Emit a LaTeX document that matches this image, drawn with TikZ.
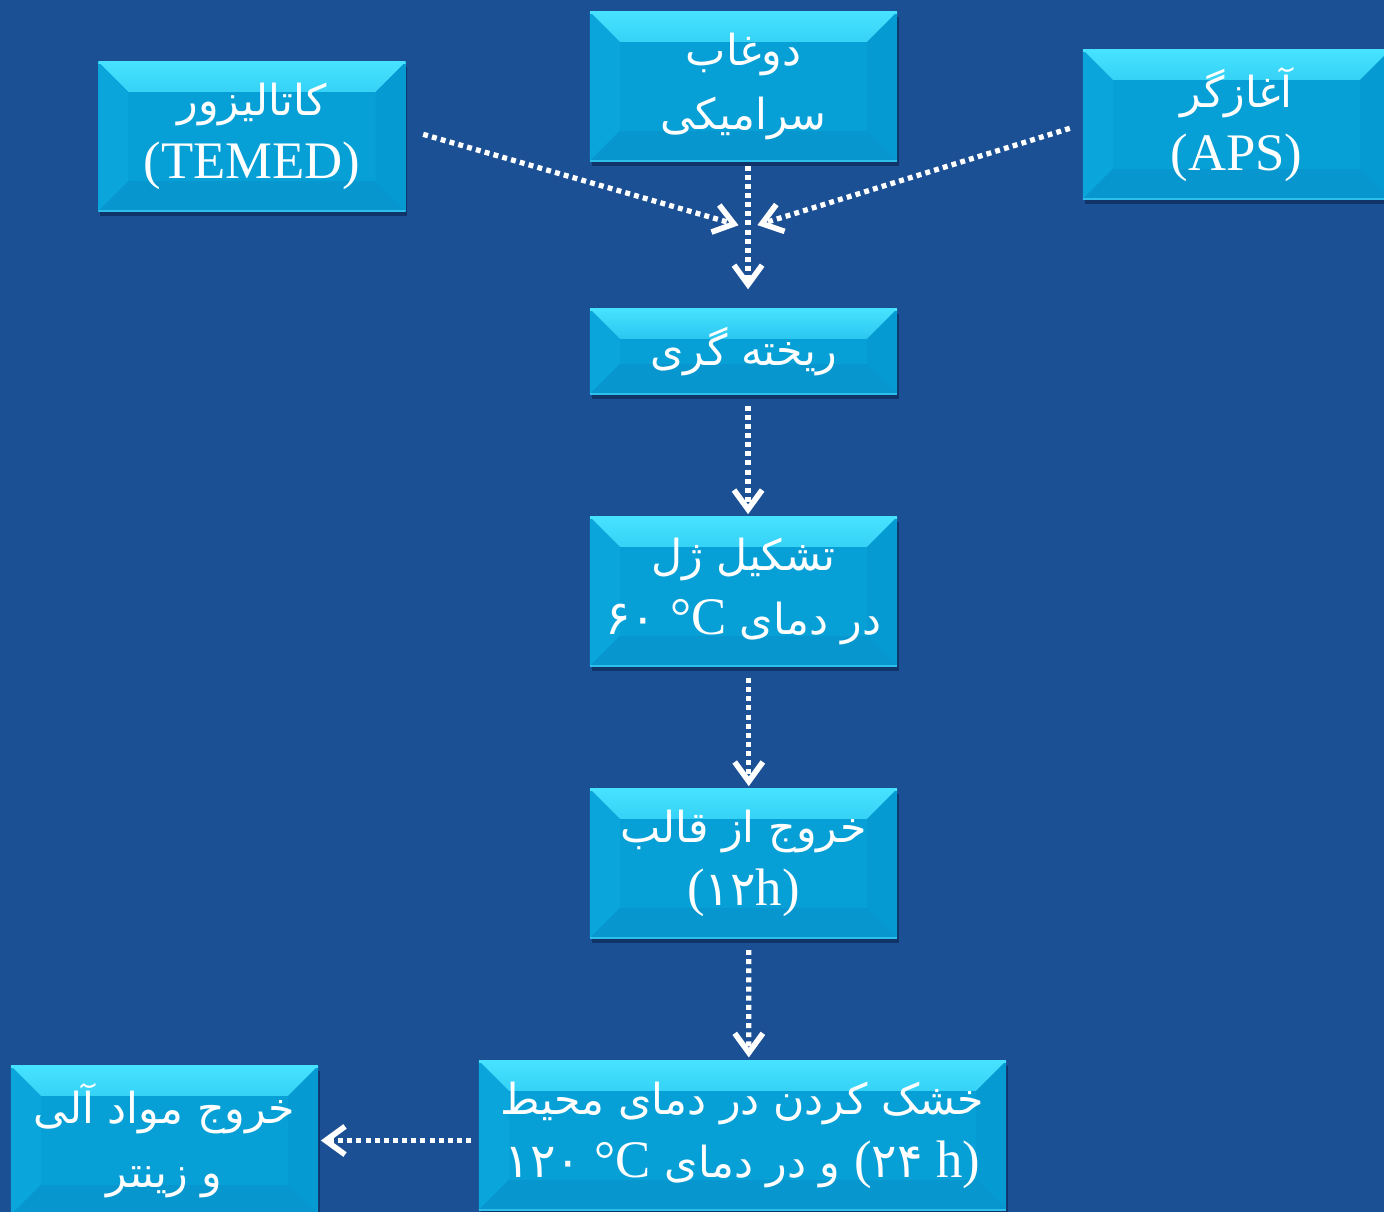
\documentclass[tikz,border=0pt]{standalone}
\usepackage{fontspec}
\setmainfont{Liberation Serif}
\newfontfamily\farsi[Script=Arabic,Scale=0.81]{DejaVu Sans}
\newfontfamily\farsinum[Script=Arabic,Scale=0.9]{DejaVu Sans}
\TeXXeTstate=1
\usetikzlibrary{arrows.meta}

\definecolor{backblue}{RGB}{28,80,149}
\definecolor{shadeblue}{RGB}{16,52,104}
\definecolor{boxcyan}{RGB}{6,160,214}
\definecolor{toplight}{RGB}{70,226,255}
\definecolor{topmid}{RGB}{14,170,224}
\definecolor{sidelight}{RGB}{10,165,219}
\definecolor{sidedark}{RGB}{5,154,209}
\definecolor{bottomdark}{RGB}{7,150,205}
\definecolor{edgelight}{RGB}{45,190,236}

\newcommand{\fa}[1]{{\farsi\beginR #1\endR}}
\newcommand{\num}[1]{{\farsinum #1}}
\newcommand{\ppbb}{path picture bounding box}

\begin{document}
\begin{tikzpicture}
    [x=0.01cm, y=-0.01cm,
    >={Straight Barb[length=5.5pt,width=8pt,line width=1.6pt]},
    stage/.style={fill=boxcyan, text=white, inner sep=0pt,
        minimum width=3.07cm, minimum height=1.49cm, align=center,
        font=\fontsize{15}{18}\selectfont,
        preaction={fill=shadeblue, transform canvas={shift={(0.5pt,-1.5pt)}}},
        path picture={
            \shade[top color=toplight, bottom color=topmid, middle color=topmid!70!toplight]
                (\ppbb.north west) -- (\ppbb.north east)
                -- ([shift={(-0.3cm,-0.3cm)}]\ppbb.north east)
                -- ([shift={(0.3cm,-0.3cm)}]\ppbb.north west) -- cycle;
            \fill[sidelight] (\ppbb.north west)
                -- ([shift={(0.3cm,-0.3cm)}]\ppbb.north west)
                -- ([shift={(0.3cm,0.3cm)}]\ppbb.south west)
                -- (\ppbb.south west) -- cycle;
            \fill[sidedark] (\ppbb.north east)
                -- ([shift={(-0.3cm,-0.3cm)}]\ppbb.north east)
                -- ([shift={(-0.3cm,0.3cm)}]\ppbb.south east)
                -- (\ppbb.south east) -- cycle;
            \fill[bottomdark] (\ppbb.south west)
                -- ([shift={(0.3cm,0.3cm)}]\ppbb.south west)
                -- ([shift={(-0.3cm,0.3cm)}]\ppbb.south east)
                -- (\ppbb.south east) -- cycle;
            \draw[toplight, line width=1.2pt]
                (\ppbb.north west) -- (\ppbb.north east);
            \draw[edgelight, line width=0.8pt]
                (\ppbb.south west) -- (\ppbb.south east);
        }},
    flow/.style={->, draw=white, line width=1.5pt,
        dash pattern=on 1.4pt off 1.2pt},
    ]
    \fill[backblue] (0,0) rectangle (1384,1212);
    \clip (0,0) rectangle (1384,1212);

    % inputs
    \node[stage] (catalyst) at (252,136.5)
        {\fa{کاتالیزور}\\(TEMED)};
    \node[stage] (slurry) at (743.5,86.5)
        {\fa{دوغاب}\\\fa{سرامیکی}};
    \node[stage] (initiator) at (1236.5,124.5)
        {\fa{آغازگر}\\(APS)};

    % process chain
    \node[stage, minimum height=0.85cm] (casting) at (743.5,351.5)
        {\fa{ریخته گری}};
    \node[stage] (gel) at (743.5,591.5)
        {\fa{تشکیل ژل}\\\fa{در دمای {\rmfamily °C} \num{۶۰}}};
    \node[stage] (demold) at (743.5,863.5)
        {\fa{خروج از قالب}\\(\num{۱۲}h)};
    \node[stage, minimum width=5.27cm] (drying) at (742.5,1135.5)
        {\fa{خشک کردن در دمای محیط}\\
         \fa{\beginL{\rmfamily(}\num{۲۴} {\rmfamily h)}\endL{} و در دمای {\rmfamily °C} \num{۱۲۰}}};
    \node[stage] (sinter) at (164.5,1140.5)
        {\fa{خروج مواد آلی}\\\fa{و زینتر}};

    \coordinate (join) at (748,228);

    \draw[flow, shorten <=5pt, shorten >=2.8pt] ([yshift=2pt]catalyst.east) -- (join);
    \draw[flow, shorten <=3.7pt, shorten >=2.8pt] (initiator.west) -- (join);
    \draw[flow, shorten <=1.1pt, shorten >=5.4pt] ([xshift=1.3pt]slurry.south) -- ([xshift=1.3pt]casting.north);
    \draw[flow, shorten <=3.1pt, shorten >=0.6pt] ([xshift=1.3pt]casting.south) -- ([xshift=1.3pt]gel.north);
    \draw[flow, shorten <=3.2pt, shorten >=0.6pt] ([xshift=1.5pt]gel.south) -- ([xshift=1.5pt]demold.north);
    \draw[flow, shorten <=3.2pt, shorten >=0.8pt] ([xshift=1.5pt]demold.south) -- ([xshift=1.8pt]drying.north);
    \draw[flow, shorten <=2pt, shorten >=0.6pt] (sinter.east -| drying.west) -- (sinter.east);
\end{tikzpicture}
\end{document}
